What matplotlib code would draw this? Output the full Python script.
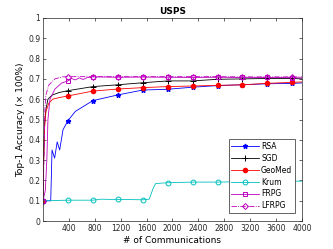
import numpy as np
import matplotlib.pyplot as plt

# marker positions (every ~385 communications)
mark_x = [0, 385, 770, 1155, 1540, 1925, 2310, 2695, 3080, 3465, 3850]

rsa_x = [0, 60, 120, 140, 180, 220, 258, 310, 385, 500, 770, 1155, 1540, 1925, 2310, 2695, 3080, 3465, 3850, 4000]
rsa_y = [0.10, 0.10, 0.10, 0.35, 0.31, 0.39, 0.35, 0.45, 0.494, 0.54, 0.593, 0.621, 0.645, 0.649, 0.659, 0.667, 0.671, 0.676, 0.678, 0.680]

sgd_x = [0, 10, 25, 46, 77, 140, 250, 385, 770, 1155, 1540, 1925, 2310, 2695, 3080, 3465, 3850, 4000]
sgd_y = [0.10, 0.30, 0.48, 0.55, 0.60, 0.62, 0.633, 0.642, 0.662, 0.671, 0.681, 0.690, 0.690, 0.698, 0.700, 0.702, 0.702, 0.700]

geo_x = [0, 10, 25, 46, 90, 150, 250, 385, 770, 1155, 1540, 1925, 2310, 2695, 3080, 3465, 3850, 4000]
geo_y = [0.10, 0.28, 0.46, 0.54, 0.58, 0.60, 0.608, 0.616, 0.640, 0.650, 0.657, 0.662, 0.665, 0.668, 0.671, 0.678, 0.683, 0.685]

krum_x = [0, 385, 770, 900, 1000, 1155, 1540, 1640, 1700, 1740, 1925, 2310, 2695, 3080, 3465, 3850, 4000]
krum_y = [0.10, 0.103, 0.103, 0.108, 0.107, 0.107, 0.105, 0.108, 0.16, 0.185, 0.189, 0.192, 0.192, 0.194, 0.195, 0.196, 0.197]

frpg_x = [0, 36, 60, 77, 108, 185, 290, 385, 440, 500, 560, 620, 680, 770, 1155, 1540, 1925, 2310, 2695, 3080, 3465, 3850, 4000]
frpg_y = [0.10, 0.15, 0.30, 0.50, 0.60, 0.65, 0.68, 0.690, 0.702, 0.695, 0.705, 0.697, 0.706, 0.710, 0.708, 0.709, 0.708, 0.707, 0.708, 0.707, 0.707, 0.706, 0.705]

lfrpg_x = [0, 15, 30, 45, 90, 185, 300, 385, 770, 1155, 1540, 1925, 2310, 2695, 3080, 3465, 3850, 4000]
lfrpg_y = [0.10, 0.30, 0.55, 0.62, 0.67, 0.70, 0.710, 0.711, 0.711, 0.711, 0.711, 0.711, 0.711, 0.711, 0.710, 0.710, 0.710, 0.710]


def marks(xs):
    return [i for i, x in enumerate(xs) if x in mark_x]


fig = plt.figure(figsize=(3.33, 2.49), dpi=100)
ax = fig.add_axes([0.129, 0.112, 0.778, 0.816])

lw = 0.6
ms = 3.5
ax.plot(rsa_x, rsa_y, color='b', marker='*', ms=ms, lw=lw, markevery=marks(rsa_x), label='RSA')
ax.plot(sgd_x, sgd_y, color='k', marker='+', ms=ms + 1, mew=0.7, lw=lw, markevery=marks(sgd_x), label='SGD')
ax.plot(geo_x, geo_y, color='r', marker='o', ms=3, lw=lw, markevery=marks(geo_x), label='GeoMed')
ax.plot(krum_x, krum_y, color='c', marker='o', mfc='none', ms=ms, mew=0.7, lw=lw, markevery=marks(krum_x), label='Krum')
ax.plot(frpg_x, frpg_y, color='m', marker='s', mfc='none', ms=ms, mew=0.7, lw=lw, markevery=marks(frpg_x), label='FRPG')
ax.plot(lfrpg_x, lfrpg_y, color='m', ls='-.', marker='D', mfc='none', ms=3, mew=0.7, lw=lw, markevery=marks(lfrpg_x), label='LFRPG')

ax.set_xlim(0, 4000)
ax.set_ylim(0, 1)
ax.set_xticks(np.arange(400, 4001, 400))
ax.set_yticks(np.arange(0, 1.01, 0.1))
ax.set_yticklabels(['0'] + ['%.1f' % v for v in np.arange(0.1, 0.95, 0.1)] + ['1'])
ax.tick_params(direction='in', length=2.5, width=0.5, labelsize=5.5, top=True, right=True, pad=2, colors='#262626')
for s in ax.spines.values():
    s.set_linewidth(0.5)
    s.set_color('#262626')

ax.set_title('USPS', fontsize=6.5, fontweight='bold', pad=3)
ax.set_xlabel('# of Communications', fontsize=6.5, labelpad=2)
ax.set_ylabel('Top-1 Accuracy (× 100%)', fontsize=6.5, labelpad=2)

leg = ax.legend(loc='lower right', fontsize=5.5, fancybox=False, framealpha=1,
                edgecolor='#262626', handlelength=3.6, labelspacing=0.38,
                borderpad=0.35, handletextpad=0.3, borderaxespad=0,
                bbox_to_anchor=(0.973, 0.04))
leg.get_frame().set_linewidth(0.5)

fig.savefig('out.png', dpi=100)
